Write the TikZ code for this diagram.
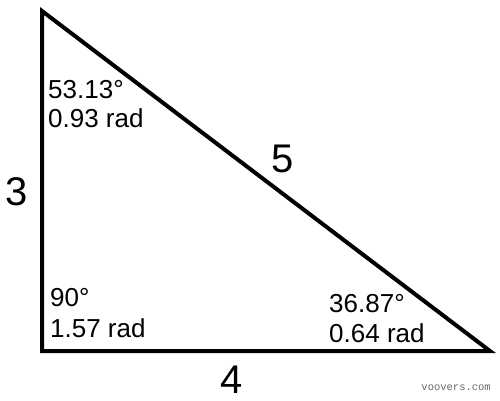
\documentclass[tikz,border=0pt]{standalone}
\usepackage{fontspec}
\setmainfont{Liberation Sans}
\newfontfamily\monofnt{Liberation Mono}
\begin{document}
\begin{tikzpicture}[x=1pt,y=-1pt,
  anglabel/.style={anchor=base west,inner sep=0pt,font=\fontsize{26}{29}\selectfont},
  sidelabel/.style={anchor=base,inner sep=0pt,font=\fontsize{40}{44}\selectfont},
  edge/.style={line width=4pt,line join=miter}]
\useasboundingbox (0,0) rectangle (500,400);
\coordinate (A) at (42,11);
\coordinate (B) at (42,351);
\coordinate (C) at (490,351);
\draw[edge] (A) -- (B) -- (C) -- cycle;
\node[anglabel] (a1) at (48,98) {53.13°};
\node[anglabel] (a2) at (48,127) {0.93 rad};
\node[anglabel] (b1) at (50,306) {90°};
\node[anglabel] (b2) at (50,337) {1.57 rad};
\node[anglabel] (c1) at (329,312) {36.87°};
\node[anglabel] (c2) at (329,342) {0.64 rad};
\node[sidelabel] (s3) at (17,205) {3};
\node[sidelabel] (s5) at (282.5,172) {5};
\node[sidelabel] (s4) at (232,393) {4};
\node[anchor=base east,inner sep=0pt,text=black!60,font=\monofnt\fontsize{10.5}{12}\selectfont] (wm) at (491,390) {voovers.com};
\end{tikzpicture}
\end{document}
